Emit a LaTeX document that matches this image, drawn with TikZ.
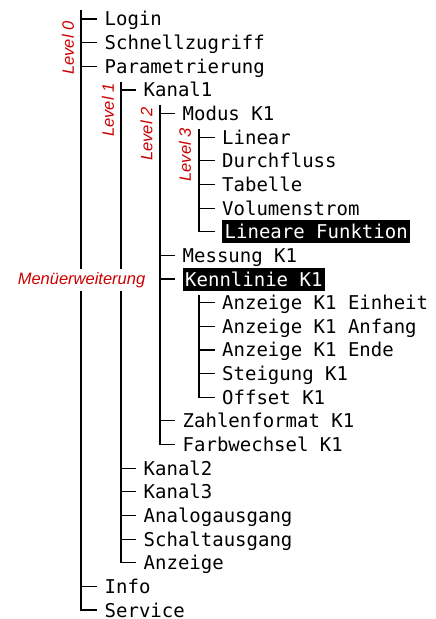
\documentclass[tikz,border=0pt]{standalone}
\usepackage{fontspec}
\setsansfont{Liberation Sans}
\setmonofont{DejaVu Sans Mono}
\usepackage{tikz}
\definecolor{lvlred}{RGB}{204,0,0}

\begin{document}
\begin{tikzpicture}[x=1pt, y=-23.64pt,
        item/.style={anchor=west, font=\ttfamily\fontsize{19}{19}\selectfont, inner xsep=0pt, inner ysep=0pt, text height=14pt, text depth=0pt},
        marked/.style={item, fill=black, text=white, inner xsep=2.5pt, inner ysep=4.5pt},
        branch/.style={line width=1.2pt, shorten >=7.5pt},
        lvl/.style={font=\sffamily\itshape\fontsize{16.5}{16.5}\selectfont, text=lvlred, inner sep=1pt}]
        \useasboundingbox (0,-0.8037) rectangle (435,25.38);
        % level 0
        \coordinate (top) at (81,-0.381);
        \node[item] (login) at (104.5,0) {Login};
        \node[item] (schnell) at (104.5,1) {Schnellzugriff};
        \node[item] (para) at (104.5,2) {Parametrierung};
        \node[item] (info) at (104.5,24) {Info};
        \node[item] (service) at (104.5,25) {Service};
        % level 1
        \node[item] (kanal1) at (143.5,3) {Kanal1};
        \node[item] (kanal2) at (143.5,19) {Kanal2};
        \node[item] (kanal3) at (143.5,20) {Kanal3};
        \node[item] (analog) at (143.5,21) {Analogausgang};
        \node[item] (schalt) at (143.5,22) {Schaltausgang};
        \node[item] (anzeige) at (143.5,23) {Anzeige};
        % level 2
        \node[item] (modus) at (182.5,4) {Modus K1};
        \node[item] (messung) at (182.5,10) {Messung K1};
        \node[marked] (kennl) at (182.5,11) {Kennlinie K1};
        \node[item] (zahlenf) at (182.5,17) {Zahlenformat K1};
        \node[item] (farbw) at (182.5,18) {Farbwechsel K1};
        % level 3
        \node[item] (linear) at (222,5) {Linear};
        \node[item] (durchfl) at (222,6) {Durchfluss};
        \node[item] (tabelle) at (222,7) {Tabelle};
        \node[item] (volstrom) at (222,8) {Volumenstrom};
        \node[marked] (linfkt) at (222,9) {Lineare Funktion};
        \node[item] (einheit) at (222,12) {Anzeige K1 Einheit};
        \node[item] (anfang) at (222,13) {Anzeige K1 Anfang};
        \node[item] (ende) at (222,14) {Anzeige K1 Ende};
        \node[item] (steigung) at (222,15) {Steigung K1};
        \node[item] (offset) at (222,16) {Offset K1};

        % trunks, each down to its last entry
        \draw[branch] (top) |- (service.west);
        \foreach \p/\c in {para/anzeige, kanal1/farbw, modus/linfkt, kennl/offset}
            \draw[branch] ([xshift=16.5pt,yshift=-15.5pt]\p.west) |- (\c.west);
        % ticks of the other entries
        \foreach \c in {login, schnell, para, info}
            \draw[branch] (top |- \c.west) -- (\c.west);
        \foreach \p/\c in {para/kanal1, para/kanal2, para/kanal3, para/analog, para/schalt,
                kanal1/modus, kanal1/messung, kanal1/kennl, kanal1/zahlenf,
                modus/linear, modus/durchfl, modus/tabelle, modus/volstrom,
                kennl/einheit, kennl/anfang, kennl/ende, kennl/steigung}
            \draw[branch] ([xshift=16.5pt]\p.west |- \c.west) -- (\c.west);

        % level marks
        \node[lvl, rotate=90] (lv0) at (68,1.227) {Level 0};
        \node[lvl, rotate=90] (lv1) at (108,3.85) {Level 1};
        \node[lvl, rotate=90] (lv2) at (146.5,4.87) {Level 2};
        \node[lvl, rotate=90] (lv3) at (185,5.75) {Level 3};
        \node[lvl, fill=white, inner xsep=0pt, inner ysep=3pt] (erw) at (81.5,11.04) {Menüerweiterung};
    \end{tikzpicture}
\end{document}
